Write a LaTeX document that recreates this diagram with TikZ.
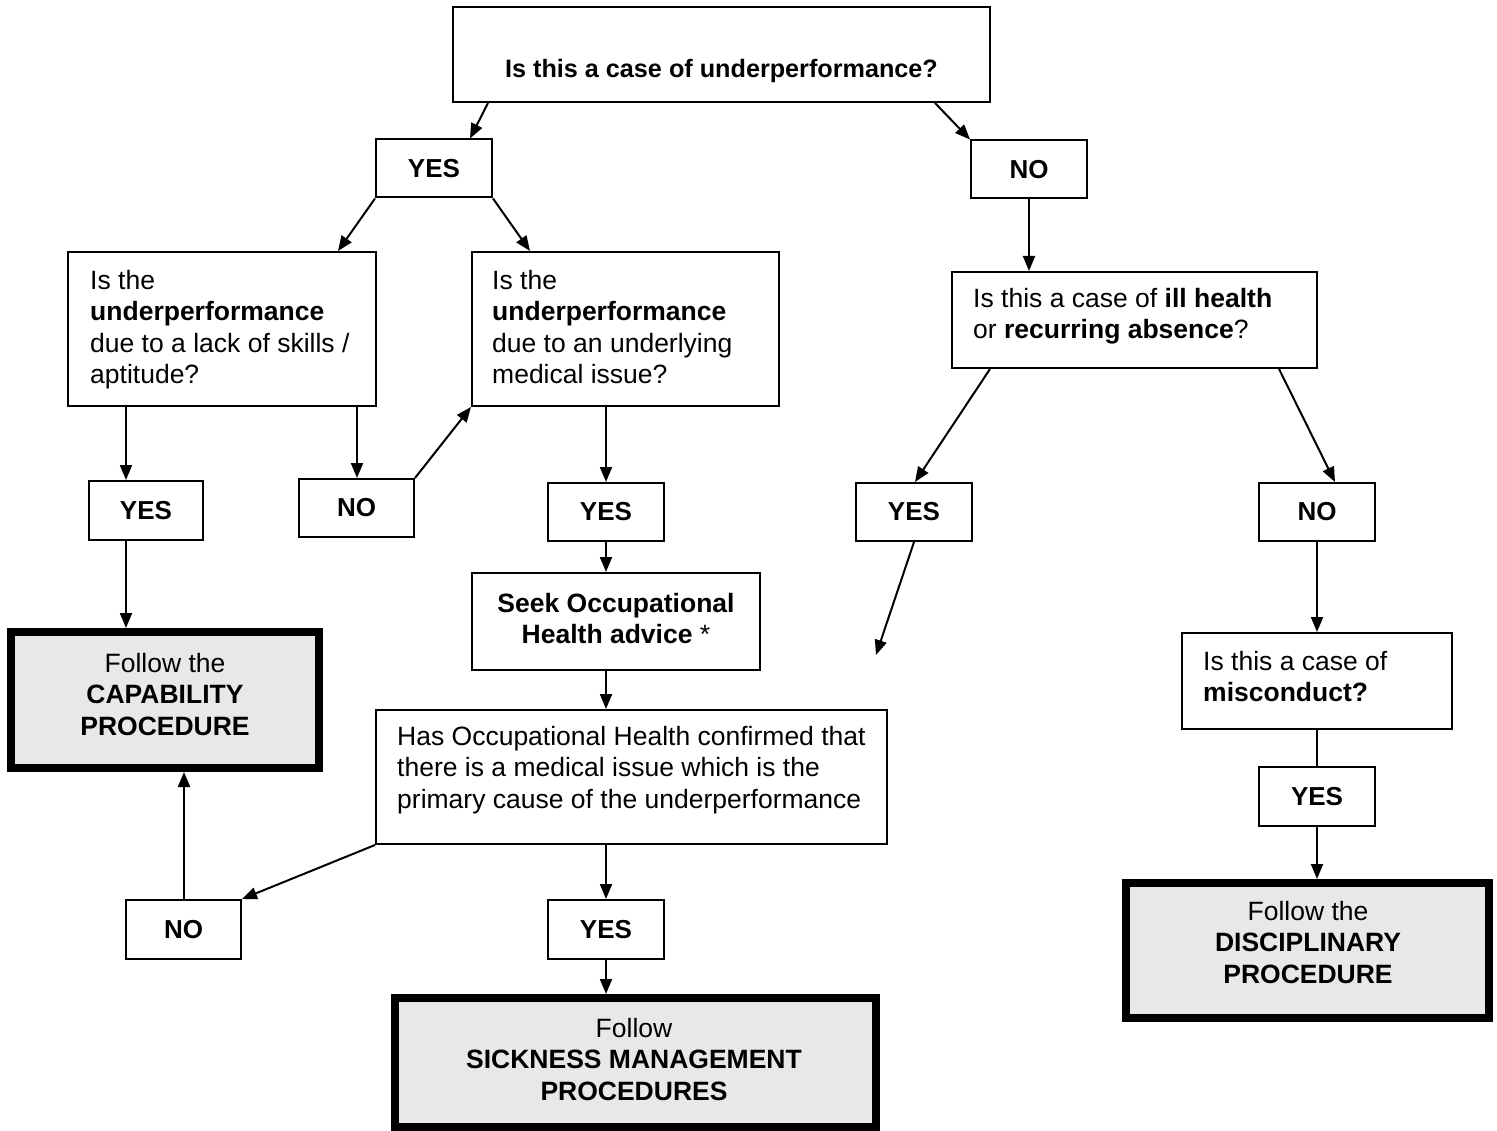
\documentclass[tikz,border=0pt]{standalone}
\usepackage{fontspec}
\setmainfont{Liberation Sans}
\usetikzlibrary{arrows.meta}
\definecolor{procfill}{RGB}{232,232,232}
\begin{document}
\begin{tikzpicture}[x=1pt,y=-1pt,
  box/.style={draw=black, line width=2pt, fill=white, inner sep=0pt},
  proc/.style={draw=black, line width=8pt, fill=procfill, inner sep=0pt},
  yn/.style={box, minimum width=116pt, minimum height=58pt, font=\fontsize{26}{31}\selectfont\bfseries},
  txt/.style={inner sep=0pt, font=\fontsize{26.5}{31.5}\selectfont},
  ltxt/.style={txt, align=left, anchor=north west},
  ctxt/.style={txt, align=center, anchor=north},
  arr/.style={line width=2pt, -{Triangle[length=15pt,width=12pt]}},
  con/.style={line width=2pt},
]
\fill[white] (0,0) rectangle (1497,1131);
\useasboundingbox (0,0) rectangle (1497,1131);

\node[box, minimum width=537pt, minimum height=95pt] (top) at (721.5,54.5) {};
\node[txt, font=\fontsize{25.2}{30}\selectfont\bfseries] (topT) at (721.5,71) {Is this a case of underperformance?};
\node[yn] (yes1) at (434,168.5) {YES};
\node[yn] (no1) at (1029,169.5) {NO};
\node[box, minimum width=308pt, minimum height=154pt] (qA) at (222,329) {};
\node[ltxt] (qAT) at (90,270) {Is the\\\textbf{underperformance}\\due to a lack of skills /\\aptitude?};
\node[box, minimum width=307pt, minimum height=154pt] (qB) at (625.5,329) {};
\node[ltxt] (qBT) at (492,270) {Is the\\\textbf{underperformance}\\due to an underlying\\medical issue?};
\node[box, minimum width=365pt, minimum height=96pt] (qC) at (1134.5,320) {};
\node[ltxt] (qCT) at (973,288) {Is this a case of \textbf{ill health}\\or \textbf{recurring absence}?};
\node[yn, minimum width=114pt, minimum height=59pt] (yes2) at (146,510.5) {YES};
\node[yn, minimum width=115pt] (no2) at (356.5,508) {NO};
\node[yn] (yes3) at (606,512) {YES};
\node[yn] (yes4) at (914,512) {YES};
\node[yn] (no3) at (1317,512) {NO};
\node[box, minimum width=288pt, minimum height=97pt] (seek) at (616,621.5) {};
\node[ctxt, font=\fontsize{26.5}{31.5}\selectfont\bfseries] (seekT) at (616,593) {Seek Occupational\\Health advice \textmd{*}};
\node[proc, minimum width=308pt, minimum height=136pt] (cap) at (165,700) {};
\node[ctxt] (capT) at (165,653) {Follow the\\\textbf{CAPABILITY}\\\textbf{PROCEDURE}};
\node[box, minimum width=511pt, minimum height=134pt] (oh) at (631.5,777) {};
\node[ltxt] (ohT) at (397,726) {Has Occupational Health confirmed that\\there is a medical issue which is the\\primary cause of the underperformance};
\node[yn, minimum width=115pt, minimum height=59pt] (no4) at (183.5,929.5) {NO};
\node[yn, minimum height=59pt] (yes5) at (606,929.5) {YES};
\node[proc, minimum width=481pt, minimum height=129pt] (sick) at (635.5,1062.5) {};
\node[ctxt] (sickT) at (634,1018) {Follow\\\textbf{SICKNESS MANAGEMENT}\\\textbf{PROCEDURES}};
\node[box, minimum width=270pt, minimum height=96pt] (misc) at (1317,681) {};
\node[ltxt] (miscT) at (1203,651) {Is this a case of\\\textbf{misconduct?}};
\node[yn, minimum height=59pt] (yes6) at (1317,796.5) {YES};
\node[proc, minimum width=363pt, minimum height=135pt] (disc) at (1307.5,950.5) {};
\node[ctxt] (discT) at (1308,901) {Follow the\\\textbf{DISCIPLINARY}\\\textbf{PROCEDURE}};
\coordinate (free) at (876,655);

\draw[arr] (488,0 |- top.south) -- (470,0 |- yes1.north);
\draw[arr] (935,0 |- top.south) -- (no1.north west);
\draw[arr] (yes1.south west) -- (338,0 |- qA.north);
\draw[arr] (yes1.south east) -- (530,0 |- qB.north);
\draw[arr] (no1.south) -- (no1.south |- qC.north);
\draw[arr] (126,0 |- qA.south) -- (126,0 |- yes2.north);
\draw[arr] (357,0 |- qA.south) -- (357,0 |- no2.north);
\draw[arr] (no2.north east) -- (qB.south west);
\draw[arr] (606,0 |- qB.south) -- (yes3.north);
\draw[arr] (990,0 |- qC.south) -- (915,0 |- yes4.north);
\draw[arr] (1279,0 |- qC.south) -- (1335,0 |- no3.north);
\draw[arr] (126,0 |- yes2.south) -- (126,0 |- cap.north);
\draw[arr] (yes3.south) -- (606,0 |- seek.north);
\draw[arr] (914,0 |- yes4.south) -- (free);
\draw[arr] (606,0 |- seek.south) -- (606,0 |- oh.north);
\draw[arr] (oh.south west) -- (no4.north east);
\draw[arr] (184,0 |- no4.north) -- (184,0 |- cap.south);
\draw[arr] (606,0 |- oh.south) -- (yes5.north);
\draw[arr] (yes5.south) -- (606,0 |- sick.north);
\draw[arr] (no3.south) -- (misc.north);
\draw[con] (misc.south) -- (yes6.north);
\draw[arr] (yes6.south) -- (1317,0 |- disc.north);
\end{tikzpicture}
\end{document}
